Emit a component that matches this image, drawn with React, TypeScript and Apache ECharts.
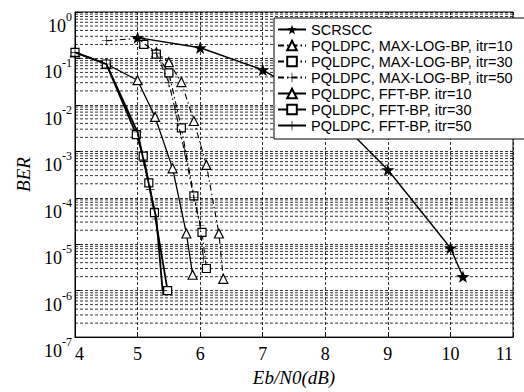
import React, { useEffect, useRef } from "react";
import * as echarts from "echarts";

const xTicks = [4, 5, 6, 7, 8, 9, 10, 11];
const yDecades = [-7, -6, -5, -4, -3, -2, -1, 0];

const seriesNames = [
  "SCRSCC",
  "PQLDPC, MAX-LOG-BP, itr=10",
  "PQLDPC, MAX-LOG-BP, itr=30",
  "PQLDPC, MAX-LOG-BP, itr=50",
  "PQLDPC, FFT-BP. itr=10",
  "PQLDPC, FFT-BP, itr=30",
  "PQLDPC, FFT-BP, itr=50",
];

const scrsccX = [5, 6, 7, 8, 9, 10, 10.2];
const scrsccY = [0.28, 0.17, 0.057, 0.009, 4.0e-4, 8.3e-6, 2.0e-6];

const maxLog10X = [5.1, 5.3, 5.5, 5.7, 5.9, 6.1, 6.3, 6.37];
const maxLog10Y = [0.22, 0.135, 0.083, 0.031, 0.0045, 5.1e-4, 1.7e-5, 1.8e-6];

const maxLog30X = [5.1, 5.3, 5.5, 5.7, 5.9, 6.03, 6.1];
const maxLog30Y = [0.2, 0.124, 0.049, 0.0032, 1.1e-4, 1.8e-5, 3.0e-6];

const maxLog50X = [4.5, 5.0, 5.3, 5.5, 5.6, 5.75, 5.9, 6.0, 6.05];
const maxLog50Y = [0.24, 0.27, 0.13, 0.03, 0.008, 1.0e-3, 1.0e-4, 2.5e-5, 5.0e-6];

const fft10X = [4, 4.5, 5, 5.28, 5.56, 5.78, 5.88];
const fft10Y = [0.135, 0.076, 0.034, 0.0055, 4.3e-4, 1.7e-5, 2.2e-6];

const fft30X = [4, 4.5, 4.98, 5.09, 5.18, 5.27, 5.48];
const fft30Y = [0.135, 0.076, 2.3e-3, 7.9e-4, 2.1e-4, 4.8e-5, 1.0e-6];

const fft50X = [4, 4.5, 5, 5.1, 5.2, 5.3, 5.4];
const fft50Y = [0.135, 0.076, 2.6e-3, 6.0e-4, 1.5e-4, 3.5e-5, 1.0e-6];

const minorMultipliers = [2, 3, 4, 5, 6, 7, 8, 9];

const SERIF = "Liberation Serif";
const SANS = "Liberation Sans";

const STAR =
  "path://M0,-10 L2.35,-3.24 L9.51,-3.09 L3.80,1.24 L5.88,8.09 L0,4 L-5.88,8.09 L-3.80,1.24 L-9.51,-3.09 L-2.35,-3.24 Z";
const PLUS = "path://M-0.7,-10 h1.4 v9.3 h9.3 v1.4 h-9.3 v9.3 h-1.4 v-9.3 h-9.3 v-1.4 h9.3 z";

function zip(xs: number[], ys: number[]) {
  return xs.map((x, i) => [x, ys[i]]);
}

export default function App() {
  const ref = useRef<HTMLDivElement>(null);
  useEffect(() => {
    const chart = echarts.init(ref.current!, null, { renderer: "svg" });

    const xMin = xTicks[0];
    const xMax = xTicks[xTicks.length - 1];
    const minorLines: number[][] = [];
    for (let k = 0; k < yDecades.length - 1; k++) {
      for (const m of minorMultipliers) minorLines.push([xMin, m * Math.pow(10, yDecades[k])]);
    }

    const dashDot = [6, 3, 1.5, 3];
    const hollow = { color: "#fff", borderColor: "#000", borderWidth: 1.2 };

    const mk = (
      i: number,
      xs: number[],
      ys: number[],
      symbol: string,
      symbolSize: number,
      lineType: any,
      width: number,
      itemStyle: any
    ) => ({
      name: seriesNames[i],
      type: "line",
      data: zip(xs, ys),
      symbol,
      symbolSize,
      symbolKeepAspect: true,
      showSymbol: true,
      lineStyle: { color: "#000", width, type: lineType },
      itemStyle,
      z: 3 + i,
    });

    const series: any[] = [
      {
        type: "custom",
        silent: true,
        z: 1,
        data: minorLines,
        renderItem: (_p: any, api: any) => {
          const v = api.value(1);
          const a = api.coord([xMin, v]);
          const b = api.coord([xMax, v]);
          return {
            type: "line",
            shape: { x1: a[0], y1: a[1], x2: b[0], y2: b[1] },
            style: { stroke: "#000", lineWidth: 0.8, lineDash: [3, 2] },
          };
        },
      },
      mk(0, scrsccX, scrsccY, STAR, 13, "solid", 1.4, { color: "#000" }),
      mk(1, maxLog10X, maxLog10Y, "triangle", 9, dashDot, 1.1, hollow),
      mk(2, maxLog30X, maxLog30Y, "rect", 8, dashDot, 1.1, hollow),
      mk(3, maxLog50X, maxLog50Y, PLUS, 9, dashDot, 1.1, { color: "#000" }),
      mk(4, fft10X, fft10Y, "triangle", 9, "solid", 1.3, hollow),
      mk(5, fft30X, fft30Y, "rect", 8, "solid", 1.8, hollow),
      mk(6, fft50X, fft50Y, PLUS, 9, "solid", 1.8, { color: "#000" }),
    ];

    chart.setOption({
      animation: false,
      backgroundColor: "#fff",
      textStyle: { fontFamily: SERIF, color: "#000" },
      grid: {
        left: 75,
        right: 11,
        top: 12,
        bottom: 48,
        show: true,
        borderColor: "#000",
        borderWidth: 1,
        backgroundColor: "transparent",
      },
      legend: {
        orient: "vertical",
        left: 274,
        top: 18,
        data: seriesNames,
        itemWidth: 28,
        itemHeight: 12,
        itemGap: 1,
        padding: [4, 16, 6, 3],
        backgroundColor: "#fff",
        borderColor: "#000",
        borderWidth: 1,
        borderRadius: 0,
        selectedMode: false,
        textStyle: {
          fontFamily: SANS,
          fontSize: 14.5,
          lineHeight: 15,
          color: "#000",
        },
        z: 20,
      },
      xAxis: {
        type: "value",
        min: xMin,
        max: xMax,
        interval: 1,
        name: "Eb/N0(dB)",
        nameLocation: "middle",
        nameGap: 30,
        nameTextStyle: {
          fontFamily: SERIF,
          fontStyle: "italic",
          fontSize: 19,
          color: "#000",
        },
        axisLine: { show: true, lineStyle: { color: "#000", width: 1 } },
        axisTick: { show: true, inside: true, length: 5, lineStyle: { color: "#000" } },
        axisLabel: {
          color: "#000",
          margin: 8,
          alignMinLabel: "left",
          alignMaxLabel: "right",
          formatter: (v: number) => (xTicks.includes(v) ? `{n|${v}}` : ""),
          rich: {
            n: { fontFamily: SERIF, fontSize: 18, color: "#000" },
          },
        },
        splitLine: { show: true, lineStyle: { color: "#000", type: [3, 2], width: 0.8 } },
      },
      yAxis: {
        type: "log",
        logBase: 10,
        min: Math.pow(10, yDecades[0]),
        max: Math.pow(10, yDecades[yDecades.length - 1]),
        splitNumber: 7,
        name: "BER",
        nameLocation: "middle",
        nameGap: 42,
        nameTextStyle: {
          fontFamily: SERIF,
          fontStyle: "italic",
          fontSize: 19,
          color: "#000",
        },
        axisLine: { show: true, lineStyle: { color: "#000", width: 1 } },
        axisTick: { show: true, inside: true, length: 5, lineStyle: { color: "#000" } },
        axisLabel: {
          margin: 3,
          padding: [22, 0, 0, 0],
          fontFamily: SERIF,
          formatter: (v: number) => {
            const e = Math.round(Math.log10(v));
            return `{b|10}{s|${e}}`;
          },
          rich: {
            b: {
              fontFamily: SERIF,
              fontSize: 18,
              color: "#000",
              lineHeight: 24,
              verticalAlign: "bottom",
            },
            s: {
              fontFamily: SERIF,
              fontSize: 12,
              color: "#000",
              lineHeight: 24,
              verticalAlign: "top",
            },
          },
        },
        splitLine: { show: true, lineStyle: { color: "#000", type: [3, 2], width: 0.8 } },
      },
      series,
    });
    return () => chart.dispose();
  }, []);
  return (
    <div
      ref={ref}
      style={{ position: "fixed", left: 0, top: 0, width: 524, height: 392, background: "#fff" }}
    />
  );
}
